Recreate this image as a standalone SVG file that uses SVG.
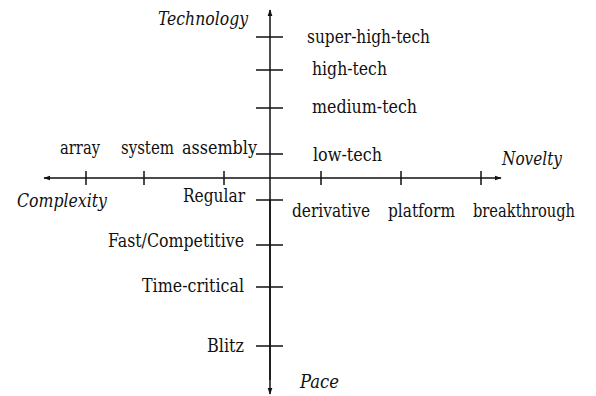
<svg xmlns="http://www.w3.org/2000/svg" width="596" height="396" viewBox="0 0 596 396">
  <style>
    text { font-family: 'DejaVu Serif Condensed', 'DejaVu Serif', serif; font-size: 18px; fill: #111; }
    .i { font-style: italic; }
    .ax { stroke: #111; stroke-width: 1.5; fill: none; }
    .tk { stroke: #111; stroke-width: 1.5; }
  </style>
  <defs>
    <marker id="arr" viewBox="0 0 10 10" refX="9" refY="5" markerWidth="7" markerHeight="7" orient="auto" markerUnits="userSpaceOnUse">
      <path d="M0,1.5 L10,5 L0,8.5 Z" fill="#111"/>
    </marker>
  </defs>

  <!-- the four axes, drawn outward from the origin -->
  <g id="connectors">
    <line class="ax" x1="270" y1="380" x2="270" y2="10" marker-end="url(#arr)"/>
    <line class="ax" x1="270" y1="200" x2="270" y2="394" marker-end="url(#arr)"/>
    <line class="ax" x1="270" y1="178" x2="501" y2="178" marker-end="url(#arr)"/>
    <line class="ax" x1="270" y1="178" x2="44" y2="178" marker-end="url(#arr)"/>
  </g>

  <!-- Technology axis (up) -->
  <g id="technology">
    <text class="i" x="158" y="25" textLength="90" lengthAdjust="spacingAndGlyphs">Technology</text>
    <g id="super-high-tech"><line class="tk" x1="256" y1="37" x2="283" y2="37"/><text x="307" y="43" textLength="123" lengthAdjust="spacingAndGlyphs">super-high-tech</text></g>
    <g id="high-tech"><line class="tk" x1="256" y1="70" x2="283" y2="70"/><text x="312" y="75" textLength="75" lengthAdjust="spacingAndGlyphs">high-tech</text></g>
    <g id="medium-tech"><line class="tk" x1="256" y1="108" x2="283" y2="108"/><text x="312" y="113" textLength="105" lengthAdjust="spacingAndGlyphs">medium-tech</text></g>
    <g id="low-tech"><line class="tk" x1="256" y1="154" x2="283" y2="154"/><text x="313" y="161" textLength="69" lengthAdjust="spacingAndGlyphs">low-tech</text></g>
  </g>

  <!-- Novelty axis (right) -->
  <g id="novelty">
    <text class="i" x="502" y="165" textLength="60" lengthAdjust="spacingAndGlyphs">Novelty</text>
    <g id="derivative"><line class="tk" x1="321" y1="171" x2="321" y2="185"/><text x="292" y="217" textLength="78" lengthAdjust="spacingAndGlyphs">derivative</text></g>
    <g id="platform"><line class="tk" x1="401" y1="171" x2="401" y2="185"/><text x="388" y="217" textLength="67" lengthAdjust="spacingAndGlyphs">platform</text></g>
    <g id="breakthrough"><line class="tk" x1="481" y1="171" x2="481" y2="185"/><text x="473" y="217" textLength="102" lengthAdjust="spacingAndGlyphs">breakthrough</text></g>
  </g>

  <!-- Complexity axis (left) -->
  <g id="complexity">
    <text class="i" x="17" y="207" textLength="90" lengthAdjust="spacingAndGlyphs">Complexity</text>
    <g id="array"><line class="tk" x1="86" y1="171" x2="86" y2="185"/><text x="60" y="154" textLength="40" lengthAdjust="spacingAndGlyphs">array</text></g>
    <g id="system"><line class="tk" x1="144" y1="171" x2="144" y2="185"/><text x="121" y="154" textLength="53" lengthAdjust="spacingAndGlyphs">system</text></g>
    <g id="assembly"><line class="tk" x1="224" y1="171" x2="224" y2="185"/><text x="182" y="154" textLength="75" lengthAdjust="spacingAndGlyphs">assembly</text></g>
  </g>

  <!-- Pace axis (down) -->
  <g id="pace">
    <text class="i" x="300" y="388" textLength="39" lengthAdjust="spacingAndGlyphs">Pace</text>
    <g id="regular"><line class="tk" x1="256" y1="200" x2="283" y2="200"/><text x="183" y="202" textLength="62" lengthAdjust="spacingAndGlyphs">Regular</text></g>
    <g id="fast"><line class="tk" x1="256" y1="245" x2="283" y2="245"/><text x="108" y="247" textLength="136" lengthAdjust="spacingAndGlyphs">Fast/Competitive</text></g>
    <g id="time-critical"><line class="tk" x1="256" y1="287" x2="283" y2="287"/><text x="142" y="292" textLength="102" lengthAdjust="spacingAndGlyphs">Time-critical</text></g>
    <g id="blitz"><line class="tk" x1="256" y1="346" x2="283" y2="346"/><text x="207" y="352" textLength="37" lengthAdjust="spacingAndGlyphs">Blitz</text></g>
  </g>
</svg>
